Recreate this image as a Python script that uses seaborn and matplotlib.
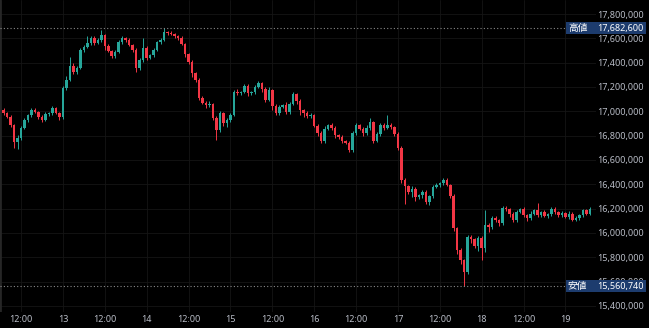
import numpy as np
import pandas as pd
import matplotlib
matplotlib.use("Agg")
import matplotlib.pyplot as plt
import matplotlib.dates as mdates
import matplotlib.transforms as mtransforms
from matplotlib.patches import Rectangle
from matplotlib.ticker import FuncFormatter
import seaborn as sns

# ---------------- data (prices in thousand JPY) ----------------
start_time = "2025-08-12 07:00"
n_candles = 169
open_first_k = 17011

close_k = [
    16986, 16953, 16888, 16748, 16781, 16863, 16929, 16970, 17011, 16994,
    16953, 16929, 16978, 16986, 17027, 16986, 16953, 17192, 17257, 17373,
    17323, 17356, 17504, 17529, 17562, 17603, 17562, 17586, 17627, 17537,
    17496, 17455, 17488, 17570, 17603, 17586, 17545, 17504, 17356, 17422,
    17521, 17438, 17463, 17504, 17570, 17586, 17652, 17644, 17636, 17619,
    17603, 17553, 17471, 17405, 17315, 17257, 17110, 17068, 17052, 17060,
    16945, 16846, 16986, 16904, 16929, 16970, 17159, 17151, 17159, 17208,
    17151, 17159, 17200, 17233, 17183, 17093, 17175, 17044, 16986, 17036,
    17052, 16994, 17060, 17142, 17085, 17011, 16986, 16962, 16970, 16879,
    16822, 16756, 16855, 16888, 16863, 16805, 16790, 16756, 16740, 16682,
    16822, 16888, 16855, 16822, 16863, 16912, 16756, 16814, 16888, 16863,
    16888, 16871, 16814, 16699, 16435, 16386, 16337, 16361, 16296, 16310,
    16337, 16255, 16304, 16378, 16394, 16411, 16435, 16394, 16304, 16041,
    15860, 15778, 15679, 15967, 15951, 15893, 15959, 15877, 16066, 16049,
    16123, 16107, 16082, 16205, 16197, 16156, 16107, 16172, 16197, 16150,
    16120, 16160, 16185, 16150, 16170, 16140, 16155, 16195, 16170, 16150,
    16165, 16135, 16160, 16110, 16125, 16150, 16185, 16160, 16195,
]

upper_wick_k = [
    20, 10, 15, 10, 25, 15, 20, 10, 15, 20,
    10, 15, 20, 10, 15, 10, 10, 20, 30, 74,
    25, 20, 15, 20, 57, 15, 20, 15, 41, 10,
    15, 10, 20, 15, 20, 10, 15, 10, 15, 20,
    82, 15, 10, 20, 10, 15, 30.6, 10, 15, 10,
    10, 15, 10, 10, 15, 10, 20, 15, 20, 25,
    10, 15, 20, 10, 15, 20, 15, 25, 10, 15,
    20, 10, 15, 20, 10, 15, 25, 10, 15, 20,
    10, 25, 15, 20, 10, 15, 10, 20, 15, 10,
    15, 20, 25, 10, 15, 20, 10, 15, 10, 20,
    15, 20, 10, 15, 25, 30, 10, 15, 20, 15,
    80, 20, 10, 15, 20, 15, 10, 25, 15, 10,
    20, 15, 10, 20, 15, 10, 20, 15, 10, 15,
    10, 15, 10, 20, 15, 10, 20, 15, 120, 15,
    20, 15, 10, 20, 15, 10, 20, 15, 10, 15,
    10, 20, 15, 60, 10, 15, 10, 20, 15, 10,
    15, 10, 20, 10, 15, 10, 15, 10, 15,
]

lower_wick_k = [
    15, 10, 20, 49, 60, 15, 10, 20, 15, 10,
    20, 15, 10, 20, 15, 10, 25, 15, 20, 10,
    15, 20, 10, 15, 10, 20, 15, 10, 15, 30,
    10, 20, 15, 10, 15, 20, 10, 15, 30, 20,
    15, 20, 10, 15, 10, 20, 10, 15, 10, 20,
    15, 10, 25, 20, 30, 15, 20, 10, 25, 15,
    20, 82, 15, 25, 30, 15, 10, 20, 15, 10,
    25, 15, 20, 10, 25, 15, 10, 30, 15, 20,
    10, 15, 20, 10, 25, 40, 30, 15, 20, 10,
    25, 15, 20, 10, 15, 25, 15, 20, 10, 15,
    20, 15, 10, 25, 15, 20, 15, 10, 15, 20,
    10, 15, 20, 15, 25, 150, 20, 40, 30, 15,
    20, 15, 25, 15, 10, 20, 15, 10, 20, 25,
    30, 35, 118.26, 20, 30, 20, 40, 99, 30, 40,
    20, 15, 25, 15, 20, 25, 15, 20, 10, 15,
    20, 15, 10, 20, 15, 10, 20, 15, 10, 20,
    15, 10, 20, 15, 10, 20, 15, 10, 15,
]

tick_times = ["2025-08-12 12:00", "2025-08-13 00:00", "2025-08-13 12:00",
              "2025-08-14 00:00", "2025-08-14 12:00", "2025-08-15 00:00",
              "2025-08-15 12:00", "2025-08-16 00:00", "2025-08-16 12:00",
              "2025-08-17 00:00", "2025-08-17 12:00", "2025-08-18 00:00",
              "2025-08-18 12:00", "2025-08-19 00:00"]
tick_labels = ["12:00", "13", "12:00", "14", "12:00", "15", "12:00", "16",
               "12:00", "17", "12:00", "18", "12:00", "19"]
price_ticks = [15400000, 15600000, 15800000, 16000000, 16200000, 16400000,
               16600000, 16800000, 17000000, 17200000, 17400000, 17600000,
               17800000]
high_label = "高値"
low_label = "安値"

# ---------------- build OHLC ----------------
times = pd.date_range(start_time, periods=n_candles, freq="h")
close = np.array(close_k, dtype=float) * 1000
open_ = np.concatenate([[open_first_k * 1000], close[:-1]])
top = np.maximum(open_, close)
bot = np.minimum(open_, close)
high = top + np.array(upper_wick_k) * 1000
low = bot - np.array(lower_wick_k) * 1000
df = pd.DataFrame({"time": times, "open": open_, "close": close,
                   "high": high, "low": low})
df["up"] = df["close"] >= df["open"]

UP = "#26a69a"
DOWN = "#f23645"
BG = "#000000"
TXT = "#b8bcc6"

sns.set_theme(style="dark", rc={
    "axes.facecolor": BG, "figure.facecolor": BG, "savefig.facecolor": BG,
    "grid.color": "#151515", "grid.linewidth": 0.6,
    "axes.edgecolor": BG,
})
plt.rcParams["font.family"] = ["Noto Sans", "Noto Sans CJK JP", "DejaVu Sans"]

W, H = 649, 328
fig = plt.figure(figsize=(W / 100, H / 100), dpi=100)
ax_bottom_px = 312
ax_right_px = 596
ax = fig.add_axes([0, 1 - ax_bottom_px / H, ax_right_px / W, ax_bottom_px / H])

x = mdates.date2num(df["time"])
x12 = mdates.date2num(pd.Timestamp("2025-08-12 12:00"))
hour = 1 / 24
ax.set_xlim(x12 - 6.02 * hour, x12 + 164.76 * hour)
ymin, ymax = 15350400, 17915100
ax.set_ylim(ymin, ymax)

colors = np.where(df["up"], UP, DOWN)
ax.vlines(x, df["low"], df["high"], colors=colors, linewidth=0.7, zorder=3)
body = np.abs(df["close"].values - df["open"].values)
body = np.maximum(body, 5000)
ax.bar(x, body, bottom=bot, width=0.72 * hour, color=colors,
       linewidth=0, zorder=4)

# axes styling
for s in ax.spines.values():
    s.set_visible(False)
ax.grid(True, color="#151515", linewidth=0.6)
ax.set_xticks(mdates.date2num(pd.to_datetime(tick_times)))
ax.set_xticklabels(tick_labels)
ax.set_yticks(price_ticks)
ax.yaxis.set_major_formatter(FuncFormatter(lambda v, p: f"{v:,.0f}"))
ax.yaxis.tick_right()
ax.tick_params(axis="y", length=0, pad=1, labelsize=6.5, labelcolor=TXT)
ax.tick_params(axis="x", length=0, pad=2.5, labelsize=6.5, labelcolor=TXT)
ax.set_xlabel("")
ax.set_ylabel("")
ax.axvline(ax.get_xlim()[0], color="#262626", linewidth=2.0, zorder=2)

# high / low markers
hi = df["high"].max()
lo = df["low"].min()
px = (ymax - ymin) / ax_bottom_px
trans = mtransforms.blended_transform_factory(ax.transAxes, ax.transData)
for val, lab in [(hi, high_label), (lo, low_label)]:
    ax.axhline(val, color="#8a8a8a", linestyle=(0, (1, 2)), linewidth=0.8,
               zorder=5)
    rect = Rectangle((566 / ax_right_px, val - 6 * px), 80 / ax_right_px,
                     12 * px, transform=trans, facecolor="#1d3c6e",
                     edgecolor="none", clip_on=False, zorder=10)
    ax.add_patch(rect)
    ax.text(568 / ax_right_px, val, lab, transform=trans, ha="left",
            va="center", color="white", fontsize=7,
            family=["Noto Sans CJK JP", "DejaVu Sans"], clip_on=False, zorder=11)
    ax.text(597.5 / ax_right_px, val, f"{val:,.0f}", transform=trans,
            ha="left", va="center", color="white", fontsize=6.5,
            clip_on=False, zorder=11)

fig.savefig("out.png", dpi=100, facecolor=BG)
